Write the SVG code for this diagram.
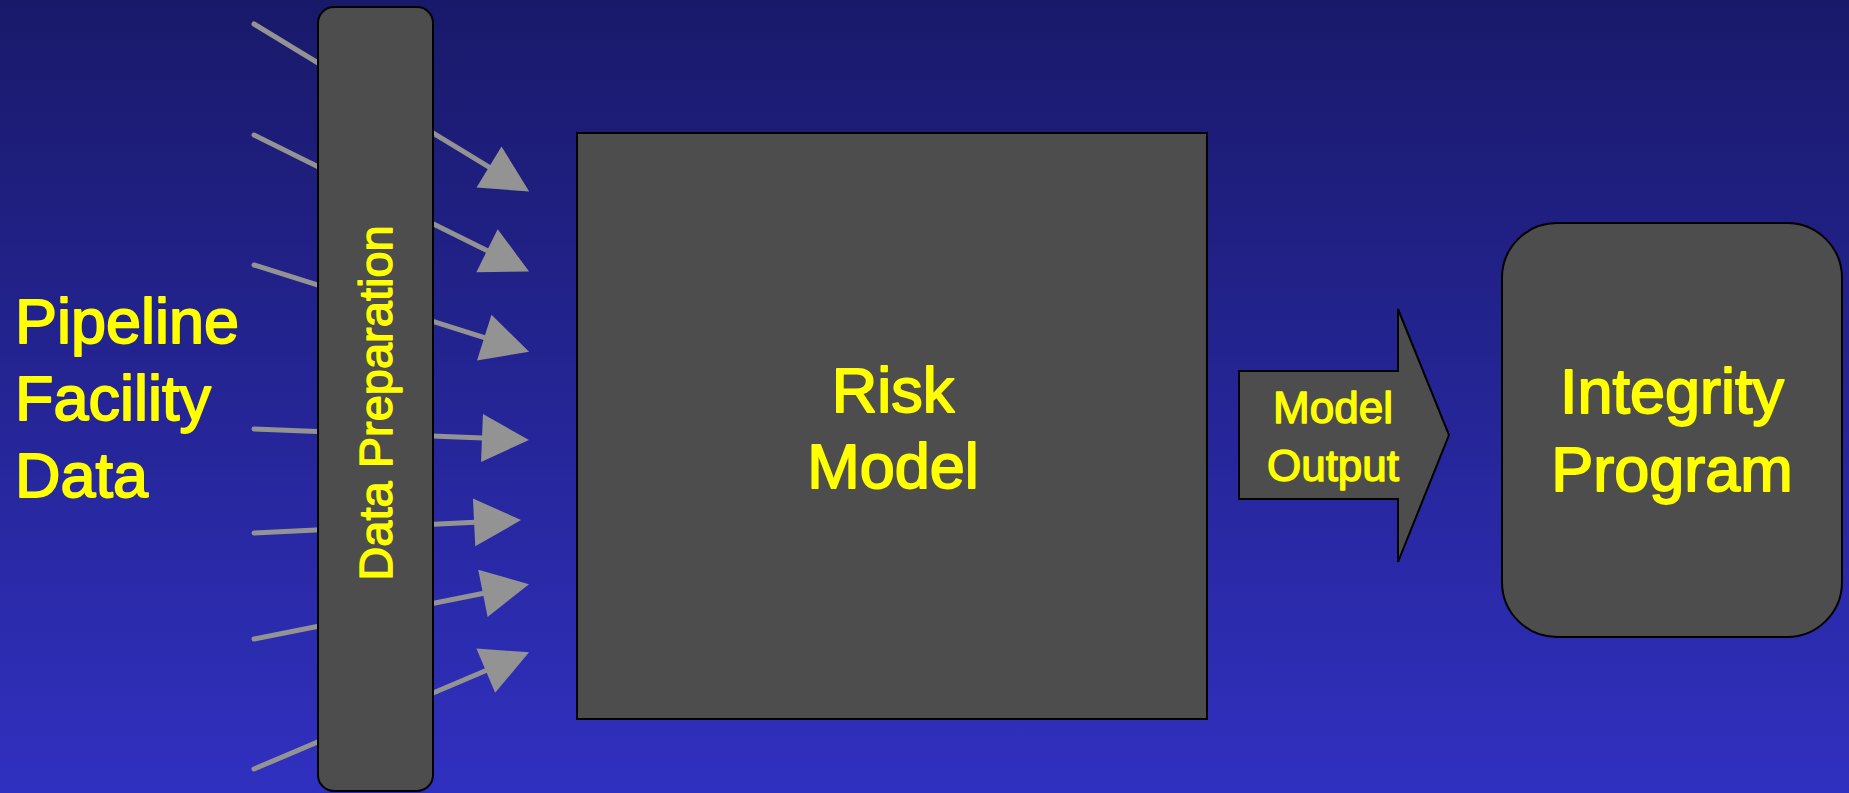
<svg xmlns="http://www.w3.org/2000/svg" width="1849" height="793" viewBox="0 0 1849 793">
  <defs>
    <linearGradient id="bg" x1="0" y1="0" x2="0" y2="1">
      <stop offset="0" stop-color="#19196a"/>
      <stop offset="1" stop-color="#3030c0"/>
    </linearGradient>
    <marker id="tri" markerUnits="userSpaceOnUse" markerWidth="48" markerHeight="48" refX="1" refY="24" orient="auto" overflow="visible">
      <path d="M0,0 L47,24 L0,48 Z" fill="#939393"/>
    </marker>
    <style>
      .box { fill: #4d4d4d; stroke: #000; stroke-width: 2; }
      .lbl { font-family: "Liberation Sans", Arial, sans-serif; fill: #ffff00; stroke: #ffff00; stroke-width: 1.4; stroke-linejoin: round; text-anchor: middle; }
      .big { font-size: 63px; stroke-width: 1.8; }
      .feed { stroke: #939393; stroke-width: 5; stroke-linecap: round; fill: none; marker-end: url(#tri); }
    </style>
  </defs>

  <rect x="0" y="0" width="1849" height="793" fill="url(#bg)"/>

  <!-- source label -->
  <g id="pipeline-facility-data">
    <text class="lbl big" style="text-anchor:start" x="15" y="343">Pipeline</text>
    <text class="lbl big" style="text-anchor:start" x="15" y="420">Facility</text>
    <text class="lbl big" style="text-anchor:start" x="15" y="497">Data</text>
  </g>

  <!-- feed lines passing behind the preparation bar -->
  <g id="connectors">
    <line class="feed" x1="254" y1="24" x2="489.9" y2="167.6"/>
    <line class="feed" x1="254" y1="135" x2="487.9" y2="251.1"/>
    <line class="feed" x1="254" y1="265" x2="485.2" y2="337.9"/>
    <line class="feed" x1="254" y1="429" x2="483.0" y2="438.1"/>
    <line class="feed" x1="254" y1="533" x2="475.1" y2="522.3"/>
    <line class="feed" x1="254" y1="639" x2="483.9" y2="593.2"/>
    <line class="feed" x1="254" y1="769" x2="486.7" y2="670.3"/>
  </g>

  <g id="data-preparation">
    <rect class="box" x="318" y="7" width="115" height="784" rx="16" ry="16"/>
    <text class="lbl" font-size="47" transform="translate(392,403) rotate(-90)">Data Preparation</text>
  </g>

  <g id="risk-model">
    <rect class="box" x="577" y="133" width="630" height="586"/>
    <text class="lbl big" x="893" y="412">Risk</text>
    <text class="lbl big" x="893" y="488">Model</text>
  </g>

  <g id="model-output">
    <polygon class="box" points="1239,371 1398,371 1398,309 1449,435 1398,562 1398,499 1239,499"/>
    <text class="lbl" font-size="44" x="1333" y="423">Model</text>
    <text class="lbl" font-size="44" x="1333" y="481">Output</text>
  </g>

  <g id="integrity-program">
    <rect class="box" x="1502" y="223" width="340" height="414" rx="55" ry="55"/>
    <text class="lbl big" x="1672" y="413">Integrity</text>
    <text class="lbl big" x="1672" y="491">Program</text>
  </g>
</svg>
